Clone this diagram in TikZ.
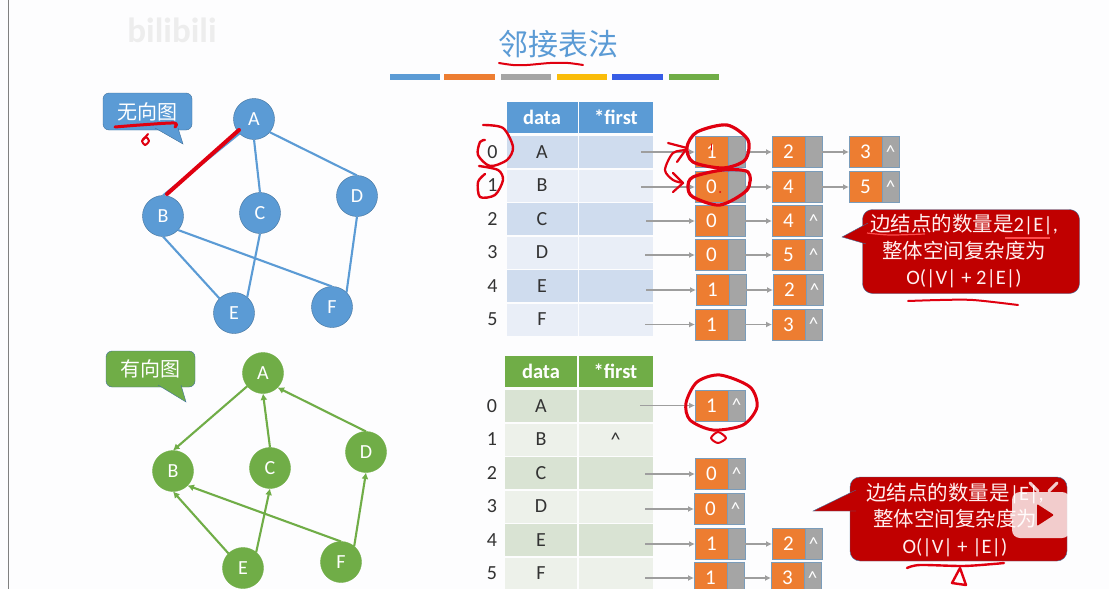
\documentclass[tikz,border=0pt]{standalone}
\usepackage{fontspec}
\setmainfont{Carlito}
\newfontfamily\cjk{Noto Sans CJK SC}
\usetikzlibrary{arrows.meta,positioning}
\definecolor{paper}{HTML}{FDFDFE}
\definecolor{bluefill}{HTML}{5B9BD5}
\definecolor{blueline}{HTML}{41719C}
\definecolor{greenfill}{HTML}{70AD47}
\definecolor{orangefill}{HTML}{ED7D31}
\definecolor{greyfill}{HTML}{A5A5A5}
\definecolor{redfill}{HTML}{C00000}
\definecolor{inkred}{HTML}{E00010}
\definecolor{bluedark}{HTML}{CFDCEE}
\definecolor{bluepale}{HTML}{E9EEF7}
\definecolor{greendark}{HTML}{D9E3D3}
\definecolor{greenpale}{HTML}{EDF1EA}
\tikzset{
  every node/.style={outer sep=0pt,inner sep=0pt},
  vtxA/.style  ={circle,draw=blueline,fill=bluefill,minimum size=41pt,text=white,font=\fontsize{20}{22}\selectfont},
  vtxB/.style  ={circle,draw=greenfill,fill=greenfill,minimum size=41pt,text=white,font=\fontsize{20}{22}\selectfont},
  edgeA/.style ={draw=bluefill,line width=2.1pt},
  edgeB/.style ={draw=greenfill,line width=2.1pt,-{Latex[length=6.5pt,width=7pt]}},
  head/.style  ={minimum height=31pt,text=white,font=\fontsize{20.5}{22}\selectfont\bfseries},
  cell/.style  ={minimum height=32pt,text=black!80,font=\fontsize{20}{22}\selectfont},
  idx/.style   ={text=black!80,font=\fontsize{20}{22}\selectfont},
  valcell/.style={draw=blueline!70,fill=orangefill,minimum width=33pt,minimum height=31pt,
                 text=white,font=\fontsize{21}{23}\selectfont},
  ptrcell/.style={draw=blueline!70,fill=greyfill,minimum width=17pt,minimum height=31pt,
                 text=white,font=\fontsize{19}{21}\selectfont},
  link/.style  ={draw=black!38,line width=1.3pt,-{Latex[length=6pt,width=6pt]}},
  say/.style   ={draw=blueline,rounded corners=6pt,text=white,font=\cjk\fontsize{20}{24}\selectfont},
  warn/.style  ={draw=blueline,fill=redfill,rounded corners=10pt,minimum width=217pt,minimum height=84pt},
  warntxt/.style={align=center,text=white!94!red,font=\fontsize{20.5}{26.5}\selectfont},
  ink/.style   ={draw=inkred,line width=2pt,line cap=round,line join=round},
}

\begin{document}
\begin{tikzpicture}[x=1pt,y=-1pt]
  \useasboundingbox (0,0) rectangle (1109,589);
  \clip (0,0) rectangle (1109,589);
  \fill[paper] (0,0) rectangle (1109,589);
  \draw[black!50,line width=1pt] (8.5,0) -- (8.5,589);
  \node[text=black!7,font=\fontsize{35}{36}\selectfont\bfseries] (mark) at (172,30) {bilibili};

  % title and colour bars
  \node[text=bluefill,font=\cjk\fontsize{30}{32}\selectfont] (title) at (558,44) {邻接表法};
  \fill[bluefill]   (390,74) rectangle (440,80);
  \fill[orangefill] (444,74) rectangle (495,80);
  \fill[greyfill]   (501,74) rectangle (551,80);
  \fill[yellow!75!red] (557,74) rectangle (607,80);
  \fill[blue!40!bluefill] (612,74) rectangle (663,80);
  \fill[greenfill]  (669,74) rectangle (719,80);

  % undirected graph
  \node[say,fill=bluefill,minimum width=89pt,minimum height=37pt] (undir) at (147.5,111.5) {无向图};
  \draw[blueline,fill=bluefill] (155,128) -- (183,144) -- (178,128);
  \node[vtxA] (a) at (254,119) {A};
  \node[vtxA] (b) at (163,216) {B};
  \node[vtxA] (c) at (260,213) {C};
  \node[vtxA] (d) at (357,196) {D};
  \node[vtxA] (e) at (234,313) {E};
  \node[vtxA] (f) at (332,307) {F};
  \draw[edgeA] (a.225) -- (b.north);
  \draw[edgeA] (a.south) -- (c.north);
  \draw[edgeA] (a.-40) -- (d.north);
  \draw[edgeA] (b.south) -- (e.135);
  \draw[edgeA] (b.-43) -- (f.north);
  \draw[edgeA] (c.south) -- (e.50);
  \draw[edgeA] (d.south) -- (f.45);

  % directed graph
  \node[say,fill=greenfill,minimum width=89pt,minimum height=36pt] (dir) at (150.5,369) {有向图};
  \draw[blueline,fill=greenfill] (158,385) -- (186,402) -- (181,385);
  \node[vtxB] (ga) at (263,373) {A};
  \node[vtxB] (gb) at (173,471) {B};
  \node[vtxB] (gc) at (270,468) {C};
  \node[vtxB] (gd) at (366,452) {D};
  \node[vtxB] (ge) at (243,568) {E};
  \node[vtxB] (gf) at (341,562) {F};
  \draw[edgeB] (ga.220) -- (gb.north);
  \draw[edgeB] (gc.north) -- (ga.south);
  \draw[edgeB] (gd.north) -- (ga.-45);
  \draw[edgeB] (ge.135) -- (gb.south);
  \draw[edgeB] (ge.50) -- (gc.south);
  \draw[edgeB] (gf.north) -- (gb.-45);
  \draw[edgeB] (gf.50) -- (gd.south);

  % upper table
  \node[head,fill=bluefill,minimum width=71pt] (hd) at (542,117.5) {data};
  \node[head,fill=bluefill,minimum width=74pt,right=1.5pt of hd] (hf) {*first};
  \node[cell,fill=bluedark,minimum width=71pt] (d0) at (542,152) {A};
  \node[cell,fill=bluedark,minimum width=74pt,right=1.5pt of d0] (f0) {};
  \node[cell,fill=bluepale,minimum width=71pt,below=1.5pt of d0] (d1) {B};
  \node[cell,fill=bluepale,minimum width=74pt,right=1.5pt of d1] (f1) {};
  \node[cell,fill=bluedark,minimum width=71pt,below=1.5pt of d1] (d2) {C};
  \node[cell,fill=bluedark,minimum width=74pt,right=1.5pt of d2] (f2) {};
  \node[cell,fill=bluepale,minimum width=71pt,below=1.5pt of d2] (d3) {D};
  \node[cell,fill=bluepale,minimum width=74pt,right=1.5pt of d3] (f3) {};
  \node[cell,fill=bluedark,minimum width=71pt,below=1.5pt of d3] (d4) {E};
  \node[cell,fill=bluedark,minimum width=74pt,right=1.5pt of d4] (f4) {};
  \node[cell,fill=bluepale,minimum width=71pt,below=1.5pt of d4] (d5) {F};
  \node[cell,fill=bluepale,minimum width=74pt,right=1.5pt of d5] (f5) {};
  \node[idx,left=9pt of d0] (i0) {0};
  \node[idx,left=9pt of d1] (i1) {1};
  \node[idx,left=9pt of d2] (i2) {2};
  \node[idx,left=9pt of d3] (i3) {3};
  \node[idx,left=9pt of d4] (i4) {4};
  \node[idx,left=9pt of d5] (i5) {5};

  % upper lists
  \node[valcell] (a0) at (711.5,152) {1};
  \node[ptrcell,right=0pt of a0] (a0p) {};
  \node[valcell,right=27pt of a0p] (a1) {2};
  \node[ptrcell,right=0pt of a1] (a1p) {};
  \node[valcell,right=27pt of a1p] (a2) {3};
  \node[ptrcell,right=0pt of a2] (a2p) {\textasciicircum};
  \node[valcell] (b0) at (711.5,187) {0};
  \node[ptrcell,right=0pt of b0] (b0p) {};
  \node[valcell,right=27pt of b0p] (b1) {4};
  \node[ptrcell,right=0pt of b1] (b1p) {};
  \node[valcell,right=27pt of b1p] (b2) {5};
  \node[ptrcell,right=0pt of b2] (b2p) {\textasciicircum};
  \node[valcell] (c0) at (711.5,221) {0};
  \node[ptrcell,right=0pt of c0] (c0p) {};
  \node[valcell,right=27pt of c0p] (c1) {4};
  \node[ptrcell,right=0pt of c1] (c1p) {\textasciicircum};
  \node[valcell] (d0n) at (711.5,255) {0};
  \node[ptrcell,right=0pt of d0n] (d0p) {};
  \node[valcell,right=27pt of d0p] (d1n) {5};
  \node[ptrcell,right=0pt of d1n] (d1p) {\textasciicircum};
  \node[valcell] (e0) at (712.5,290) {1};
  \node[ptrcell,right=0pt of e0] (e0p) {};
  \node[valcell,right=27pt of e0p] (e1) {2};
  \node[ptrcell,right=0pt of e1] (e1p) {\textasciicircum};
  \node[valcell] (f0n) at (711.5,324.5) {1};
  \node[ptrcell,right=0pt of f0n] (f0p) {};
  \node[valcell,right=27pt of f0p] (f1) {3};
  \node[ptrcell,right=0pt of f1] (f1p) {\textasciicircum};

  \coordinate (s0) at (641,152);
  \coordinate (s1) at (641,187);
  \coordinate (s2) at (646,221);
  \coordinate (s3) at (645,255);
  \coordinate (s4) at (646,290);
  \coordinate (s5) at (645,324.5);
  \draw[link] (s0) -- (a0);
  \draw[link] (s1) -- (b0);
  \draw[link] (s2) -- (c0);
  \draw[link] (s3) -- (d0n);
  \draw[link] (s4) -- (e0);
  \draw[link] (s5) -- (f0n);
  \draw[link] (a0p) -- (a1);
  \draw[link] (a1p) -- (a2);
  \draw[link] (b0p) -- (b1);
  \draw[link] (b1p) -- (b2);
  \draw[link] (c0p) -- (c1);
  \draw[link] (d0p) -- (d1n);
  \draw[link] (e0p) -- (e1);
  \draw[link] (f0p) -- (f1);

  % lower table
  \node[head,fill=greenfill,minimum width=72pt] (ghd) at (541,371.5) {data};
  \node[head,fill=greenfill,minimum width=74pt,right=1.5pt of ghd] (ghf) {*first};
  \node[cell,fill=greendark,minimum width=72pt] (gd0) at (541,406) {A};
  \node[cell,fill=greendark,minimum width=74pt,right=1.5pt of gd0] (gf0) {};
  \node[cell,fill=greenpale,minimum width=72pt,below=1.5pt of gd0] (gd1) {B};
  \node[cell,fill=greenpale,minimum width=74pt,right=1.5pt of gd1] (gf1) {\textasciicircum};
  \node[cell,fill=greendark,minimum width=72pt,below=1.5pt of gd1] (gd2) {C};
  \node[cell,fill=greendark,minimum width=74pt,right=1.5pt of gd2] (gf2) {};
  \node[cell,fill=greenpale,minimum width=72pt,below=1.5pt of gd2] (gd3) {D};
  \node[cell,fill=greenpale,minimum width=74pt,right=1.5pt of gd3] (gf3) {};
  \node[cell,fill=greendark,minimum width=72pt,below=1.5pt of gd3] (gd4) {E};
  \node[cell,fill=greendark,minimum width=74pt,right=1.5pt of gd4] (gf4) {};
  \node[cell,fill=greenpale,minimum width=72pt,below=1.5pt of gd4] (gd5) {F};
  \node[cell,fill=greenpale,minimum width=74pt,right=1.5pt of gd5] (gf5) {};
  \node[idx,left=8pt of gd0] (gi0) {0};
  \node[idx,left=8pt of gd1] (gi1) {1};
  \node[idx,left=8pt of gd2] (gi2) {2};
  \node[idx,left=8pt of gd3] (gi3) {3};
  \node[idx,left=8pt of gd4] (gi4) {4};
  \node[idx,left=8pt of gd5] (gi5) {5};

  % lower lists
  \node[valcell] (ga0) at (711.5,405.5) {1};
  \node[ptrcell,right=0pt of ga0] (ga0p) {\textasciicircum};
  \node[valcell] (gc0) at (711.5,474) {0};
  \node[ptrcell,right=0pt of gc0] (gc0p) {\textasciicircum};
  \node[valcell] (gd0n) at (710.5,509) {0};
  \node[ptrcell,right=0pt of gd0n] (gd0p) {\textasciicircum};
  \node[valcell] (ge0) at (711.5,544) {1};
  \node[ptrcell,right=0pt of ge0] (ge0p) {};
  \node[valcell,right=27pt of ge0p] (ge1) {2};
  \node[ptrcell,right=0pt of ge1] (ge1p) {\textasciicircum};
  \node[valcell] (gf0n) at (710.5,578) {1};
  \node[ptrcell,right=0pt of gf0n] (gf0p) {};
  \node[valcell,right=27pt of gf0p] (gf1) {3};
  \node[ptrcell,right=0pt of gf1] (gf1p) {\textasciicircum};

  \coordinate (gs0) at (640,405.5);
  \coordinate (gs2) at (645,474);
  \coordinate (gs3) at (645,509);
  \coordinate (gs4) at (645,544);
  \coordinate (gs5) at (645,578);
  \draw[link] (gs0) -- (ga0);
  \draw[link] (gs2) -- (gc0);
  \draw[link] (gs3) -- (gd0n);
  \draw[link] (gs4) -- (ge0);
  \draw[link] (gs5) -- (gf0n);
  \draw[link] (ge0p) -- (ge1);
  \draw[link] (gf0p) -- (gf1);

  % red boxes
  \node[warn] (note1) at (971,251.5) {};
  \draw[blueline,fill=redfill] (868,223) -- (842,237) -- (866,244);
  \node[warntxt] (note1t) at (964,251.5)
    {{\cjk 边结点的数量是}2|E|,\\{\cjk 整体空间复杂度为}\\O(|V| + 2|E|)};
  \node[warn] (note2) at (958.5,519) {};
  \draw[blueline,fill=redfill] (856,490) -- (813,511) -- (856,511);
  \node[warntxt] (note2t) at (955,520)
    {{\cjk 边结点的数量是}|E|,\\{\cjk 整体空间复杂度为}\\O(|V| + |E|)};

  % player badge
  \fill[white,opacity=.8,rounded corners=8pt] (1012,492) rectangle (1070,538);
  \draw[white,opacity=.8,line width=3pt,line cap=round] (1030,483) -- (1038,491);
  \draw[white,opacity=.8,line width=3pt,line cap=round] (1057,483) -- (1049,491);
  \fill[redfill,rounded corners=1pt] (1037,504) -- (1054,515) -- (1037,526) -- cycle;

  % pen marks
  \path[ink,line width=2pt] plot[smooth] coordinates {(499,63) (513,65) (527,65) (550,63) (568,63) (583,65)};
  \path[ink,line width=3pt] plot[smooth] coordinates {(115,127) (140,125) (174,123) (175,127)};
  \path[ink,line width=2pt] plot[smooth cycle] coordinates {(146,137) (149,141) (145,145) (142,141)};
  \path[ink,line width=2pt] (148,134) -- (143,140);
  \path[ink,line width=4pt] (239,130) -- (167,194);
  \path[ink,line width=2.4pt] plot[smooth] coordinates {(483,125) (503,128) (513,147) (507,160) (490,166) (478,155) (480,142) (485,140)};
  \path[ink,line width=2.4pt] plot[smooth] coordinates {(479,166) (498,170) (503,180) (495,195) (480,197) (478,182) (485,174)};
  \path[ink,line width=3.2pt] plot[smooth cycle] coordinates {(697,132) (727,125) (748,140) (745,160) (723,168) (693,162) (687,147)};
  \path[ink,line width=3.2pt] plot[smooth cycle] coordinates {(693,177) (723,170) (748,172) (747,190) (720,205) (693,197) (688,187)};
  \path[ink,line width=2.2pt] (668,143) -- (687,148) -- (677,162);
  \path[ink,line width=2.2pt] plot[smooth] coordinates {(687,150) (673,153) (665,170) (673,180) (683,183)};
  \path[ink,line width=2.2pt] (673,173) -- (683,183) -- (673,192);
  \path[ink,line width=1pt] (711,144) -- (711,150);
  \fill[inkred] (720,192) circle (1pt);
  \path[draw=red!70!white,line width=1.2pt] plot[smooth] coordinates {(867,233) (890,235) (925,234)};
  \path[draw=red!70!white,line width=1.2pt] plot[smooth] coordinates {(1005,238) (1030,238) (1050,238)};
  \path[ink,line width=2pt] plot[smooth] coordinates {(908,301) (940,300) (973,300) (1018,305)};
  \path[ink,line width=3pt] plot[smooth cycle] coordinates {(697,382) (720,375) (750,387) (757,407) (743,425) (713,430) (690,420) (686,403)};
  \path[ink,line width=2pt] plot[smooth cycle] coordinates {(718,432) (726,438) (718,443) (711,438)};
  \path[ink,line width=2.4pt] plot[smooth] coordinates {(907,568) (920,565) (963,566) (993,564) (1004,563)};
  \path[ink,line width=2.4pt] (960,568) -- (952,583) -- (966,585) -- cycle;
\end{tikzpicture}
\end{document}
